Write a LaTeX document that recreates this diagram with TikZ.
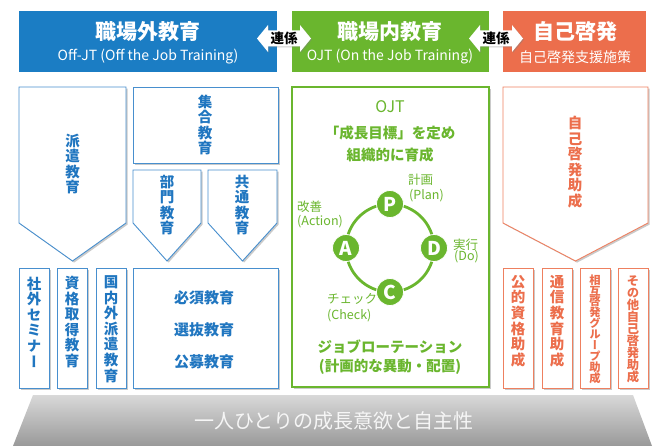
\documentclass[tikz,border=0pt]{standalone}
\usepackage{fontspec}
\setmainfont{Noto Sans CJK JP}
\newfontfamily\vfont[RawFeature=+vert]{Noto Sans CJK JP}
\usetikzlibrary{shadows}
\definecolor{hblue}{RGB}{27,125,196}
\definecolor{lblue}{RGB}{72,143,206}
\definecolor{tblue}{RGB}{32,118,192}
\definecolor{hgreen}{RGB}{106,182,46}
\definecolor{horange}{RGB}{236,110,76}
\definecolor{lorange}{RGB}{238,128,96}
\definecolor{basetext}{RGB}{246,246,246}
\tikzset{
  shad/.style={drop shadow={shadow xshift=1.6pt,shadow yshift=-1.6pt,opacity=0.35,fill=black!60}},
  bbox/.style={draw=lblue,line width=0.9pt,fill=white,shad},
  obox/.style={draw=lorange,line width=0.9pt,fill=white,shad},
  gbox/.style={draw=hgreen,line width=1.2pt,fill=white,shad},
  vt/.style={align=center,inner sep=0pt,font=\vfont\bfseries\fontsize{14.5}{15.6}\selectfont},
  vtsmall/.style={align=center,inner sep=0pt,font=\vfont\bfseries\fontsize{11.3}{10.9}\selectfont},
  vtmid/.style={align=center,inner sep=0pt,font=\vfont\bfseries\fontsize{12.3}{12}\selectfont},
  htitle/.style={text=white,inner sep=0pt,font=\bfseries\fontsize{21}{21}\selectfont},
  hsub/.style={text=white,inner sep=0pt,font=\fontsize{14}{14}\selectfont},
  linktext/.style={inner sep=0pt,text=black,font=\bfseries\fontsize{13.5}{13.5}\selectfont},
  gtext/.style={text=hgreen,inner sep=0pt,font=\bfseries\fontsize{14.5}{14.5}\selectfont},
  glabel/.style={text=hgreen,inner sep=0pt,anchor=west,font=\fontsize{12.5}{12.5}\selectfont},
  pdca/.style={circle,fill=hgreen,draw=white,line width=0.8pt,minimum size=27pt,inner sep=0pt,text=white,font=\bfseries\fontsize{19}{19}\selectfont},
  btext/.style={text=tblue,inner sep=0pt,font=\bfseries\fontsize{15}{15}\selectfont},
}
\begin{document}
\setlength{\lineskiplimit}{-100pt}%
\begin{tikzpicture}[x=1pt,y=-1pt]
\useasboundingbox (0,0) rectangle (660,446);
% base
\shade[top color=black!15,bottom color=black!40] (33,395) -- (633,395) -- (652,446) -- (13,446) -- cycle;
\node[text=basetext,inner sep=0pt,font=\fontsize{20}{20}\selectfont] (base) at (334,421) {一人ひとりの成長意欲と自主性};
% headers
\node[fill=hblue,minimum width=258pt,minimum height=61pt,inner sep=0pt] (hoff) at (148,41.5) {};
\node[fill=hgreen,minimum width=197pt,minimum height=61pt,inner sep=0pt] (hojt) at (390.5,41.5) {};
\node[fill=horange,minimum width=143pt,minimum height=61pt,inner sep=0pt] (hself) at (574.5,41.5) {};
\node[htitle] (t1) at (148,32) {職場外教育};
\node[hsub] (s1) at (148,57) {Off-JT (Off the Job Training)};
\node[htitle] (t2) at (390,32) {職場内教育};
\node[hsub] (s2) at (390,57) {OJT (On the Job Training)};
\node[htitle] (t3) at (575,32) {自己啓発};
\node[hsub] (s3) at (575,57) {自己啓発支援施策};
% link arrows
\path[fill=white,drop shadow={shadow xshift=1pt,shadow yshift=-1pt,opacity=0.4}] (257,38.5) -- (268,25) -- (268,30.5) -- (300,30.5) -- (300,25) -- (311,38.5) -- (300,52) -- (300,46.5) -- (268,46.5) -- (268,52) -- cycle;
\node[linktext] (k1) at (284,38.5) {連係};
\path[fill=white,drop shadow={shadow xshift=1pt,shadow yshift=-1pt,opacity=0.4}] (469,38.5) -- (480,25) -- (480,30.5) -- (512,30.5) -- (512,25) -- (523,38.5) -- (512,52) -- (512,46.5) -- (480,46.5) -- (480,52) -- cycle;
\node[linktext] (k2) at (496,38.5) {連係};
% Off-JT column
\path[bbox] (19,87) -- (126,87) -- (126,223) -- (72.5,261) -- (19,223) -- cycle;
\path[bbox] (133,87) rectangle (278,163);
\path[bbox] (133,170) -- (201,170) -- (201,223) -- (167,261) -- (133,223) -- cycle;
\path[bbox] (208,170) -- (277,170) -- (277,223) -- (242.5,261) -- (208,223) -- cycle;
\path[bbox] (19,268) rectangle (49,388);
\path[bbox] (57,268) rectangle (87,388);
\path[bbox] (96,268) rectangle (126,388);
\path[bbox] (133,268) rectangle (278,388);
\node[vt,text=tblue] (v1) at (72.5,164) {派\\遣\\教\\育};
\node[vt,text=tblue] (v2) at (205,125) {集\\合\\教\\育};
\node[vt,text=tblue] (v3) at (167,205) {部\\門\\教\\育};
\node[vt,text=tblue] (v4) at (242,205) {共\\通\\教\\育};
\node[vt,text=tblue] (v5) at (34,322) {社\\外\\セ\\ミ\\ナ\\ー};
\node[vt,text=tblue] (v6) at (72,322) {資\\格\\取\\得\\教\\育};
\node[vt,text=tblue] (v7) at (111,329) {国\\内\\外\\派\\遣\\教\\育};
\node[btext] (m1) at (204,298) {必須教育};
\node[btext] (m2) at (204,330) {選抜教育};
\node[btext] (m3) at (204,362) {公募教育};
% OJT
\path[gbox] (292,87) rectangle (489,387);
\node[gtext,font=\fontsize{16}{16}\selectfont] (o1) at (390,107) {OJT};
\node[gtext] (o2) at (390,133) {「成長目標」を定め};
\node[gtext] (o3) at (390,155) {組織的に育成};
\coordinate (cc) at (390,248);
\draw[hgreen,line width=2.8pt] (cc) circle[radius=44pt];
\node[pdca] (P) at (390,204) {P};
\node[pdca] (D) at (434,248) {D};
\node[pdca] (C) at (390,292) {C};
\node[pdca] (A) at (346,248) {A};
\node[glabel] (lp1) at (408,180) {計画};
\node[glabel] (lp2) at (409,196) {(Plan)};
\node[glabel] (la1) at (297,207) {改善};
\node[glabel] (la2) at (297,222) {(Action)};
\node[glabel] (ld1) at (453,245) {実行};
\node[glabel] (ld2) at (454,257) {(Do)};
\node[glabel] (lc1) at (327,299) {チェック};
\node[glabel] (lc2) at (327,316) {(Check)};
\node[gtext] (o4) at (390,347) {ジョブローテーション};
\node[gtext] (o5) at (390,367) {(計画的な異動・配置)};
% self development
\path[obox] (503,87) -- (648,87) -- (648,223) -- (575.5,261) -- (503,223) -- cycle;
\path[obox] (503,268) rectangle (533,388);
\path[obox] (542,268) rectangle (572,388);
\path[obox] (580,268) rectangle (610,388);
\path[obox] (618,268) rectangle (648,388);
\node[vt,text=horange] (v8) at (575,162) {自\\己\\啓\\発\\助\\成};
\node[vt,text=horange] (v9) at (518,321) {公\\的\\資\\格\\助\\成};
\node[vt,text=horange] (v10) at (557,321) {通\\信\\教\\育\\助\\成};
\node[vtsmall,text=horange] (v11) at (595,329) {相\\互\\啓\\発\\グ\\ル\\ー\\プ\\助\\成};
\node[vtmid,text=horange] (v12) at (633,329) {そ\\の\\他\\自\\己\\啓\\発\\助\\成};
\end{tikzpicture}
\end{document}
